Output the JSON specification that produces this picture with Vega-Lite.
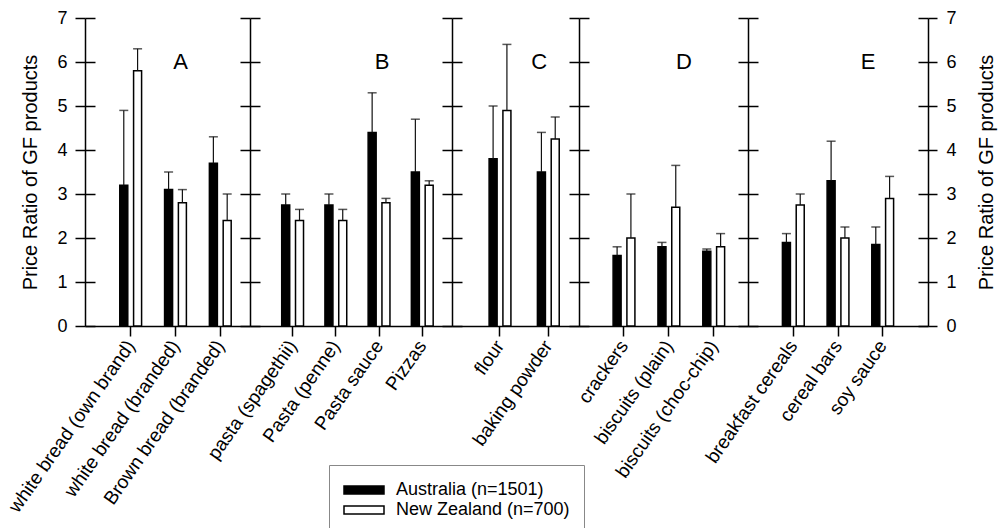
{
  "$schema": "https://vega.github.io/schema/vega-lite/v6.json",
  "background": "white",
  "padding": {"left": 5, "top": 9, "right": 2, "bottom": 0},
  "spacing": 0,
  "bounds": "flush",
  "datasets": {
    "prices": [
      {"group": "A", "product": "white bread (own brand)", "country": "Australia (n=1501)", "mean": 3.2, "upper": 4.9},
      {"group": "A", "product": "white bread (own brand)", "country": "New Zealand (n=700)", "mean": 5.8, "upper": 6.3},
      {"group": "A", "product": "white bread (branded)", "country": "Australia (n=1501)", "mean": 3.1, "upper": 3.5},
      {"group": "A", "product": "white bread (branded)", "country": "New Zealand (n=700)", "mean": 2.8, "upper": 3.1},
      {"group": "A", "product": "Brown bread (branded)", "country": "Australia (n=1501)", "mean": 3.7, "upper": 4.3},
      {"group": "A", "product": "Brown bread (branded)", "country": "New Zealand (n=700)", "mean": 2.4, "upper": 3.0},
      {"group": "B", "product": "pasta (spagethii)", "country": "Australia (n=1501)", "mean": 2.75, "upper": 3.0},
      {"group": "B", "product": "pasta (spagethii)", "country": "New Zealand (n=700)", "mean": 2.4, "upper": 2.65},
      {"group": "B", "product": "Pasta (penne)", "country": "Australia (n=1501)", "mean": 2.75, "upper": 3.0},
      {"group": "B", "product": "Pasta (penne)", "country": "New Zealand (n=700)", "mean": 2.4, "upper": 2.65},
      {"group": "B", "product": "Pasta sauce", "country": "Australia (n=1501)", "mean": 4.4, "upper": 5.3},
      {"group": "B", "product": "Pasta sauce", "country": "New Zealand (n=700)", "mean": 2.8, "upper": 2.9},
      {"group": "B", "product": "Pizzas", "country": "Australia (n=1501)", "mean": 3.5, "upper": 4.7},
      {"group": "B", "product": "Pizzas", "country": "New Zealand (n=700)", "mean": 3.2, "upper": 3.3},
      {"group": "C", "product": "flour", "country": "Australia (n=1501)", "mean": 3.8, "upper": 5.0},
      {"group": "C", "product": "flour", "country": "New Zealand (n=700)", "mean": 4.9, "upper": 6.4},
      {"group": "C", "product": "baking powder", "country": "Australia (n=1501)", "mean": 3.5, "upper": 4.4},
      {"group": "C", "product": "baking powder", "country": "New Zealand (n=700)", "mean": 4.25, "upper": 4.75},
      {"group": "D", "product": "crackers", "country": "Australia (n=1501)", "mean": 1.6, "upper": 1.8},
      {"group": "D", "product": "crackers", "country": "New Zealand (n=700)", "mean": 2.0, "upper": 3.0},
      {"group": "D", "product": "biscuits (plain)", "country": "Australia (n=1501)", "mean": 1.8, "upper": 1.9},
      {"group": "D", "product": "biscuits (plain)", "country": "New Zealand (n=700)", "mean": 2.7, "upper": 3.65},
      {"group": "D", "product": "biscuits (choc-chip)", "country": "Australia (n=1501)", "mean": 1.7, "upper": 1.75},
      {"group": "D", "product": "biscuits (choc-chip)", "country": "New Zealand (n=700)", "mean": 1.8, "upper": 2.1},
      {"group": "E", "product": "breakfast cereals", "country": "Australia (n=1501)", "mean": 1.9, "upper": 2.1},
      {"group": "E", "product": "breakfast cereals", "country": "New Zealand (n=700)", "mean": 2.75, "upper": 3.0},
      {"group": "E", "product": "cereal bars", "country": "Australia (n=1501)", "mean": 3.3, "upper": 4.2},
      {"group": "E", "product": "cereal bars", "country": "New Zealand (n=700)", "mean": 2.0, "upper": 2.25},
      {"group": "E", "product": "soy sauce", "country": "Australia (n=1501)", "mean": 1.85, "upper": 2.25},
      {"group": "E", "product": "soy sauce", "country": "New Zealand (n=700)", "mean": 2.9, "upper": 3.4}
    ],
    "letters": [
      {"group": "A"}, {"group": "B"}, {"group": "C"}, {"group": "D"}, {"group": "E"}
    ]
  },
  "hconcat": [
    {
      "width": 165, "height": 308,
      "data": {"name": "prices"},
      "transform": [{"filter": "datum.group === 'A'"}],
      "layer": [
        {
          "mark": {"type": "bar", "stroke": "black", "strokeWidth": 1.5},
          "encoding": {
            "x": {"field": "product", "type": "nominal", "scale": {"domain": ["white bread (own brand)", "white bread (branded)", "Brown bread (branded)"], "paddingInner": 0.513, "paddingOuter": 0.598, "align": 0.649},
                  "axis": {"title": null, "labelAngle": -55, "labelAlign": "right", "labelBaseline": "middle", "labelLimit": 400, "labelOverlap": false, "labelFontSize": 19, "tickSize": 10, "labelPadding": 6}},
            "xOffset": {"field": "country", "type": "nominal", "scale": {"domain": ["Australia (n=1501)", "New Zealand (n=700)"], "paddingInner": 0.42, "paddingOuter": 0}},
            "y": {"field": "mean", "type": "quantitative", "scale": {"domain": [0, 7], "nice": false},
                  "axis": {"orient": "left", "offset": 0, "values": [0, 1, 2, 3, 4, 5, 6, 7], "tickSize": 10, "labelPadding": 8, "title": "Price Ratio of GF products", "titlePadding": 16}},
            "fill": {"field": "country", "type": "nominal", "scale": {"domain": ["Australia (n=1501)", "New Zealand (n=700)"], "range": ["black", "white"]},
                     "legend": {"title": null, "orient": "none", "legendX": 244, "legendY": 447}}
          }
        },
        {
          "mark": {"type": "rule", "stroke": "#111111", "strokeWidth": 1.2},
          "encoding": {
            "x": {"field": "product", "type": "nominal", "axis": {"title": null}},
            "xOffset": {"field": "country", "type": "nominal"},
            "y": {"field": "mean", "type": "quantitative", "axis": {"orient": "left", "offset": 0, "values": [0, 1, 2, 3, 4, 5, 6, 7], "tickSize": -10, "labels": false, "domain": false, "title": null}},
            "y2": {"field": "upper"}
          }
        },
        {
          "mark": {"type": "tick", "color": "#111111", "thickness": 1.5, "size": 9},
          "encoding": {
            "x": {"field": "product", "type": "nominal", "axis": {"title": null}},
            "xOffset": {"field": "country", "type": "nominal"},
            "y": {"field": "upper", "type": "quantitative", "axis": null}
          }
        },
        {
          "data": {"name": "letters"},
          "transform": [{"filter": "datum.group === 'A'"}],
          "mark": {"type": "text", "fontSize": 22, "baseline": "middle", "align": "center", "dx": 5, "color": "black"},
          "encoding": {
            "x": {"datum": "white bread (branded)", "type": "nominal", "bandPosition": 0.5, "axis": {"title": null}},
            "y": {"datum": 6, "type": "quantitative", "axis": null},
            "text": {"field": "group", "type": "nominal"}
          }
        }
      ],
      "resolve": {"axis": {"y": "independent"}}
    },
    {
      "width": 202, "height": 308,
      "data": {"name": "prices"},
      "transform": [{"filter": "datum.group === 'B'"}],
      "layer": [
        {
          "mark": {"type": "bar", "stroke": "black", "strokeWidth": 1.5},
          "encoding": {
            "x": {"field": "product", "type": "nominal", "scale": {"domain": ["pasta (spagethii)", "Pasta (penne)", "Pasta sauce", "Pizzas"], "paddingInner": 0.496, "paddingOuter": 0.585, "align": 0.627},
                  "axis": {"title": null, "labelAngle": -55, "labelAlign": "right", "labelBaseline": "middle", "labelLimit": 400, "labelOverlap": false, "labelFontSize": 19, "tickSize": 10, "labelPadding": 6}},
            "xOffset": {"field": "country", "type": "nominal", "scale": {"domain": ["Australia (n=1501)", "New Zealand (n=700)"], "paddingInner": 0.42, "paddingOuter": 0}},
            "y": {"field": "mean", "type": "quantitative", "scale": {"domain": [0, 7], "nice": false},
                  "axis": {"orient": "left", "offset": 0, "values": [0, 1, 2, 3, 4, 5, 6, 7], "tickSize": 10, "labels": false, "title": null}},
            "fill": {"field": "country", "type": "nominal", "scale": {"domain": ["Australia (n=1501)", "New Zealand (n=700)"], "range": ["black", "white"]},
                     "legend": {"title": null, "orient": "none", "legendX": 244, "legendY": 447}}
          }
        },
        {
          "mark": {"type": "rule", "stroke": "#111111", "strokeWidth": 1.2},
          "encoding": {
            "x": {"field": "product", "type": "nominal", "axis": {"title": null}},
            "xOffset": {"field": "country", "type": "nominal"},
            "y": {"field": "mean", "type": "quantitative", "axis": {"orient": "left", "offset": 0, "values": [0, 1, 2, 3, 4, 5, 6, 7], "tickSize": -10, "labels": false, "domain": false, "title": null}},
            "y2": {"field": "upper"}
          }
        },
        {
          "mark": {"type": "tick", "color": "#111111", "thickness": 1.5, "size": 9},
          "encoding": {
            "x": {"field": "product", "type": "nominal", "axis": {"title": null}},
            "xOffset": {"field": "country", "type": "nominal"},
            "y": {"field": "upper", "type": "quantitative", "axis": null}
          }
        },
        {
          "data": {"name": "letters"},
          "transform": [{"filter": "datum.group === 'B'"}],
          "mark": {"type": "text", "fontSize": 22, "baseline": "middle", "align": "center", "dx": 3, "color": "black"},
          "encoding": {
            "x": {"datum": "Pasta sauce", "type": "nominal", "bandPosition": 0.5, "axis": {"title": null}},
            "y": {"datum": 6, "type": "quantitative", "axis": null},
            "text": {"field": "group", "type": "nominal"}
          }
        }
      ],
      "resolve": {"axis": {"y": "independent"}}
    },
    {
      "width": 127, "height": 308,
      "data": {"name": "prices"},
      "transform": [{"filter": "datum.group === 'C'"}],
      "layer": [
        {
          "mark": {"type": "bar", "stroke": "black", "strokeWidth": 1.5},
          "encoding": {
            "x": {"field": "product", "type": "nominal", "scale": {"domain": ["flour", "baking powder"], "paddingInner": 0.549, "paddingOuter": 0.589, "align": 0.652},
                  "axis": {"title": null, "labelAngle": -55, "labelAlign": "right", "labelBaseline": "middle", "labelLimit": 400, "labelOverlap": false, "labelFontSize": 19, "tickSize": 10, "labelPadding": 6}},
            "xOffset": {"field": "country", "type": "nominal", "scale": {"domain": ["Australia (n=1501)", "New Zealand (n=700)"], "paddingInner": 0.42, "paddingOuter": 0}},
            "y": {"field": "mean", "type": "quantitative", "scale": {"domain": [0, 7], "nice": false},
                  "axis": {"orient": "left", "offset": 0, "values": [0, 1, 2, 3, 4, 5, 6, 7], "tickSize": 10, "labels": false, "title": null}},
            "fill": {"field": "country", "type": "nominal", "scale": {"domain": ["Australia (n=1501)", "New Zealand (n=700)"], "range": ["black", "white"]},
                     "legend": {"title": null, "orient": "none", "legendX": 244, "legendY": 447}}
          }
        },
        {
          "mark": {"type": "rule", "stroke": "#111111", "strokeWidth": 1.2},
          "encoding": {
            "x": {"field": "product", "type": "nominal", "axis": {"title": null}},
            "xOffset": {"field": "country", "type": "nominal"},
            "y": {"field": "mean", "type": "quantitative", "axis": {"orient": "left", "offset": 0, "values": [0, 1, 2, 3, 4, 5, 6, 7], "tickSize": -10, "labels": false, "domain": false, "title": null}},
            "y2": {"field": "upper"}
          }
        },
        {
          "mark": {"type": "tick", "color": "#111111", "thickness": 1.5, "size": 9},
          "encoding": {
            "x": {"field": "product", "type": "nominal", "axis": {"title": null}},
            "xOffset": {"field": "country", "type": "nominal"},
            "y": {"field": "upper", "type": "quantitative", "axis": null}
          }
        },
        {
          "data": {"name": "letters"},
          "transform": [{"filter": "datum.group === 'C'"}],
          "mark": {"type": "text", "fontSize": 22, "baseline": "middle", "align": "center", "dx": -9, "color": "black"},
          "encoding": {
            "x": {"datum": "baking powder", "type": "nominal", "bandPosition": 0.5, "axis": {"title": null}},
            "y": {"datum": 6, "type": "quantitative", "axis": null},
            "text": {"field": "group", "type": "nominal"}
          }
        }
      ],
      "resolve": {"axis": {"y": "independent"}}
    },
    {
      "width": 169, "height": 308,
      "data": {"name": "prices"},
      "transform": [{"filter": "datum.group === 'D'"}],
      "layer": [
        {
          "mark": {"type": "bar", "stroke": "black", "strokeWidth": 1.5},
          "encoding": {
            "x": {"field": "product", "type": "nominal", "scale": {"domain": ["crackers", "biscuits (plain)", "biscuits (choc-chip)"], "paddingInner": 0.514, "paddingOuter": 0.641, "align": 0.593},
                  "axis": {"title": null, "labelAngle": -55, "labelAlign": "right", "labelBaseline": "middle", "labelLimit": 400, "labelOverlap": false, "labelFontSize": 19, "tickSize": 10, "labelPadding": 6}},
            "xOffset": {"field": "country", "type": "nominal", "scale": {"domain": ["Australia (n=1501)", "New Zealand (n=700)"], "paddingInner": 0.42, "paddingOuter": 0}},
            "y": {"field": "mean", "type": "quantitative", "scale": {"domain": [0, 7], "nice": false},
                  "axis": {"orient": "left", "offset": 0, "values": [0, 1, 2, 3, 4, 5, 6, 7], "tickSize": 10, "labels": false, "title": null}},
            "fill": {"field": "country", "type": "nominal", "scale": {"domain": ["Australia (n=1501)", "New Zealand (n=700)"], "range": ["black", "white"]},
                     "legend": {"title": null, "orient": "none", "legendX": 244, "legendY": 447}}
          }
        },
        {
          "mark": {"type": "rule", "stroke": "#111111", "strokeWidth": 1.2},
          "encoding": {
            "x": {"field": "product", "type": "nominal", "axis": {"title": null}},
            "xOffset": {"field": "country", "type": "nominal"},
            "y": {"field": "mean", "type": "quantitative", "axis": {"orient": "left", "offset": 0, "values": [0, 1, 2, 3, 4, 5, 6, 7], "tickSize": -10, "labels": false, "domain": false, "title": null}},
            "y2": {"field": "upper"}
          }
        },
        {
          "mark": {"type": "tick", "color": "#111111", "thickness": 1.5, "size": 9},
          "encoding": {
            "x": {"field": "product", "type": "nominal", "axis": {"title": null}},
            "xOffset": {"field": "country", "type": "nominal"},
            "y": {"field": "upper", "type": "quantitative", "axis": null}
          }
        },
        {
          "data": {"name": "letters"},
          "transform": [{"filter": "datum.group === 'D'"}],
          "mark": {"type": "text", "fontSize": 22, "baseline": "middle", "align": "center", "dx": 15, "color": "black"},
          "encoding": {
            "x": {"datum": "biscuits (plain)", "type": "nominal", "bandPosition": 0.5, "axis": {"title": null}},
            "y": {"datum": 6, "type": "quantitative", "axis": null},
            "text": {"field": "group", "type": "nominal"}
          }
        }
      ],
      "resolve": {"axis": {"y": "independent"}}
    },
    {
      "width": 180, "height": 308,
      "data": {"name": "prices"},
      "transform": [{"filter": "datum.group === 'E'"}],
      "layer": [
        {
          "mark": {"type": "bar", "stroke": "black", "strokeWidth": 1.5},
          "encoding": {
            "x": {"field": "product", "type": "nominal", "scale": {"domain": ["breakfast cereals", "cereal bars", "soy sauce"], "paddingInner": 0.512, "paddingOuter": 0.77, "align": 0.5},
                  "axis": {"title": null, "labelAngle": -55, "labelAlign": "right", "labelBaseline": "middle", "labelLimit": 400, "labelOverlap": false, "labelFontSize": 19, "tickSize": 10, "labelPadding": 6}},
            "xOffset": {"field": "country", "type": "nominal", "scale": {"domain": ["Australia (n=1501)", "New Zealand (n=700)"], "paddingInner": 0.42, "paddingOuter": 0}},
            "y": {"field": "mean", "type": "quantitative", "scale": {"domain": [0, 7], "nice": false},
                  "axis": {"orient": "left", "offset": 0, "values": [0, 1, 2, 3, 4, 5, 6, 7], "tickSize": 10, "labels": false, "title": null}},
            "fill": {"field": "country", "type": "nominal", "scale": {"domain": ["Australia (n=1501)", "New Zealand (n=700)"], "range": ["black", "white"]},
                     "legend": {"title": null, "orient": "none", "legendX": 244, "legendY": 447}}
          }
        },
        {
          "mark": {"type": "rule", "stroke": "#111111", "strokeWidth": 1.2},
          "encoding": {
            "x": {"field": "product", "type": "nominal", "axis": {"title": null}},
            "xOffset": {"field": "country", "type": "nominal"},
            "y": {"field": "mean", "type": "quantitative", "axis": {"orient": "left", "offset": 0, "values": [0, 1, 2, 3, 4, 5, 6, 7], "tickSize": -10, "labels": false, "domain": false, "title": null}},
            "y2": {"field": "upper"}
          }
        },
        {
          "mark": {"type": "tick", "color": "#111111", "thickness": 1.5, "size": 9},
          "encoding": {
            "x": {"field": "product", "type": "nominal", "axis": {"title": null}},
            "xOffset": {"field": "country", "type": "nominal"},
            "y": {"field": "upper", "type": "quantitative",
                  "axis": {"orient": "right", "offset": 0, "values": [0, 1, 2, 3, 4, 5, 6, 7], "tickSize": 9, "labelPadding": 9, "title": "Price Ratio of GF products", "titlePadding": 20, "titleAngle": 270, "titleBaseline": "top"}}
          }
        },
        {
          "data": {"name": "letters"},
          "transform": [{"filter": "datum.group === 'E'"}],
          "mark": {"type": "text", "fontSize": 22, "baseline": "middle", "align": "center", "dx": 30, "color": "black"},
          "encoding": {
            "x": {"datum": "cereal bars", "type": "nominal", "bandPosition": 0.5, "axis": {"title": null}},
            "y": {"datum": 6, "type": "quantitative",
                  "axis": {"orient": "right", "offset": 0, "values": [0, 1, 2, 3, 4, 5, 6, 7], "tickSize": -10, "labels": false, "domain": false, "title": null}},
            "text": {"field": "group", "type": "nominal"}
          }
        }
      ],
      "resolve": {"axis": {"y": "independent"}}
    }
  ],
  "config": {
    "view": {"stroke": null},
    "font": "Liberation Sans",
    "axis": {
      "domainColor": "black", "domainWidth": 1.5, "tickColor": "black", "tickWidth": 1.5,
      "labelColor": "black", "titleColor": "black", "labelFont": "Liberation Sans", "titleFont": "Liberation Sans",
      "labelFontSize": 18, "titleFontSize": 20, "titleFontWeight": "normal", "grid": false
    },
    "legend": {
      "symbolType": "M-2,-0.4H2V0.4H-2Z", "symbolSize": 400, "symbolStrokeColor": "black", "symbolStrokeWidth": 1.5,
      "symbolOffset": 10, "labelOffset": 21, "labelFontSize": 18, "labelFont": "Liberation Sans", "labelColor": "black",
      "labelLimit": 400, "strokeColor": "#888888", "padding": 14, "rowPadding": 0, "fillColor": "white"
    },
    "text": {"font": "Liberation Sans"}
  }
}
